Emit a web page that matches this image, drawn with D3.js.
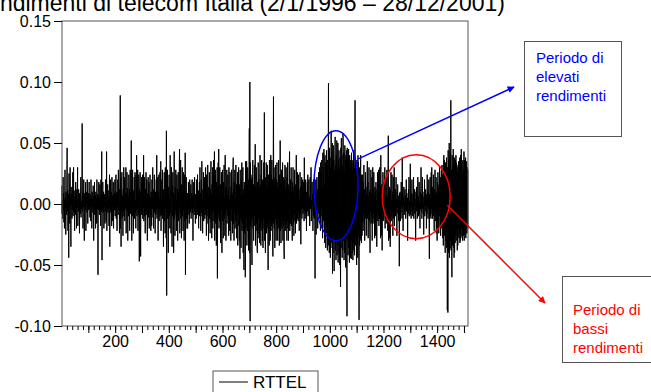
<!DOCTYPE html>
<html>
<head>
<meta charset="utf-8">
<script src="https://cdn.jsdelivr.net/npm/d3@7"></script>
<style>
  body { margin: 0; background: #fff; }
  svg { display: block; font-family: Arial, 'Liberation Sans', sans-serif; }
  .axis path, .axis line { stroke: #000; }
</style>
</head>
<body>
<div class="result"></div>
<script>
// Daily returns RTTEL, in thousandths (obs 1-500, 501-1000, 1001-1515)
const rtPart1 = [
  15, -8, 3, -12, 6, 22, -5, 9, -15, 4, -20, 7, 28, -3, 5, -25, 10, 2, -9, 24,
  46, -6, 11, -22, 3, 8, -44, 25, -2, 12, -16, 30, -4, 6, -35, 14, -1, 8, -12, 9,
  -5, 26, -10, 2, 30, -7, 11, -3, -22, 6, 1, -9, 18, -2, 12, -20, 4, -3, 8, 30,
  -18, 3, -6, 12, -2, 7, -24, 9, 1, -8, 5, 22, -11, 2, -4, 8, 66, -6, 10, -20,
  7, -2, 20, -8, -30, 4, 9, -5, 1, 18, -22, 6, -1, 10, -7, 20, 3, -16, 5, -4,
  9, -5, 18, -2, 4, -11, 8, 1, -14, 20, -3, 6, -20, 10, -1, 4, -7, 15, 2, -30,
  6, -4, 18, -9, 3, 7, -20, 10, -2, 5, -16, 20, -4, 2, 8, -58, 6, -5, 18, -3,
  4, -9, 16, -1, 7, -18, 20, -6, 3, 43, -46, 8, -4, 18, -7, 2, 10, -20, 5, -2,
  8, -16, 4, 20, -6, 1, -14, 43, -22, 5, -3, 16, -7, 11, -4, 3, -18, 8, 24, -35,
  6, -4, 20, -7, 2, 10, -18, 22, -3, 7, -14, 4, 18, -20, 6, -2, 9, -5, 20, -10,
  8, -3, 24, -12, 4, 10, -22, 7, -2, 20, -9, 28, -5, 3, 12, -24, 6, 30, 89, -20,
  22, -35, 9, -5, 26, -11, 7, 2, -26, 12, -6, 30, -10, 4, 22, -14, 8, -4, 11, 30,
  -24, 9, -6, 26, -3, 13, -30, 7, 2, -10, 24, -5, 12, -22, 4, 28, -8, 10, -4, 52,
  -8, -30, 14, -10, 28, -4, 8, -24, 11, -2, 22, -12, 5, 26, -7, 3, -20, 24, -5, 40,
  -10, 14, -4, 28, -22, 7, -9, 24, 3, -47, 12, -5, 26, -14, -43, 10, -4, 22, -9, 6,
  -7, 24, -12, 9, -3, 40, -14, 7, 22, -10, 4, -24, 12, -5, 26, -9, 3, 20, -12, -30,
  9, -5, 22, -11, 4, 18, -20, 7, -3, 24, -9, 5, -22, 10, 2, -18, 20, -4, 7, 30,
  -11, 6, -20, 12, -3, 24, -7, 4, -24, 10, 1, -9, 20, -5, 40, -12, 7, -3, 22, -30,
  10, -7, 24, -14, 5, -4, 26, -10, 7, 35, -22, 4, -9, 20, -5, 28, -12, 3, 9, -35,
  12, -6, 26, -14, 5, -24, 30, -4, 10, -28, 60, -75, 22, -5, 28, -12, 7, -40, 14, -8,
  24, -10, 5, -20, 40, -7, 12, -24, 4, 30, -5, -35, 15, -10, 26, -4, 9, -40, 14, 43,
  -12, 7, -26, 14, -5, 28, -9, 3, -22, 24, -7, 12, -30, 5, 26, -14, 9, -4, 30, 45,
  -24, 14, -7, 36, -12, 5, -28, 16, -3, 30, -10, 8, -22, 26, -5, 12, -30, 7, 24, -14,
  42, -58, 10, -7, 22, -12, 4, -20, 9, -20, 5, -9, 18, -4, 7, -16, 3, 20, -7, 4,
  -6, 16, -12, 2, 9, -4, 20, -7, 5, -30, 7, -3, 18, -9, 4, 22, -6, 2, -16, 8
];
const rtPart2 = [
  6, -12, 20, -3, 7, -9, 24, -5, 3, 11, -20, 7, -2, 18, -10, 30, -4, 9, -22, 5,
  20, -7, 35, -10, 4, -24, 12, -3, 26, -14, 7, -5, 22, -12, 10, -4, 30, -9, 5, -26,
  24, -10, 8, -4, 32, -16, 7, -30, 14, -5, 26, -12, 4, -24, 12, -7, 35, -14, 8, -28,
  16, -8, 30, -20, 10, -5, 36, -14, 7, 43, -30, 12, -10, 28, -16, 5, -34, 18, -7, 30,
  -61, 14, -12, 34, -8, 45, -20, 6, -14, 30, -4, 16, -32, 10, -5, 26, -18, -40, 12, 28,
  -14, 8, -28, 18, -6, 32, -12, 5, -26, 40, -9, 14, -30, 10, -4, 28, -16, 7, -10, 24,
  -5, 12, -26, 30, -9, 4, -22, 26, -12, 7, -30, 14, -4, 28, -14, 8, -24, 10, 30, 38,
  -16, 12, -30, 18, -7, 28, -20, 5, -14, 32, -10, 16, -28, 8, -5, 26, -34, 14, -9, 30,
  -18, 10, -30, 16, -45, 28, -12, 7, -36, 20, -14, 34, -22, 8, -16, 30, -40, 12, -20, -54,
  18, -24, 14, -10, -60, 35, -20, 22, -12, 35, -34, 16, -22, 30, -14, 20, -38, 12, 30, 62,
  -40, 100, -96, 34, -18, 24, -14, 20, -32, -50, 22, -12, 36, -20, 16, -30, 12, -18, 32, -10,
  20, 49, -34, 14, -22, 30, -16, 12, -36, -40, 18, -24, 34, -12, 20, -28, 14, -32, 22, 40,
  -20, 16, -34, 24, -14, 36, -22, 10, -30, 20, -36, 18, -12, 34, -20, 75, -30, 16, -14, -40,
  22, -18, 34, -24, 14, -20, 32, -16, 12, -54, 24, -22, 18, -34, 36, -14, 20, -30, 16, 40,
  -22, 24, -18, 36, -14, 20, -32, -43, 22, 88, -16, 30, -20, 18, -36, 22, -12, 32, -18, -30,
  20, -16, 34, -22, 14, -30, 18, -12, 36, -20, 16, -34, 24, -14, 52, -22, 18, -32, 12, 28,
  -20, 24, -14, 34, -30, 16, -18, 22, -36, -45, 20, -14, 32, -22, 12, -20, 30, -16, 18, -30,
  22, -14, 34, -20, 16, -30, 12, -18, 30, 43, -22, 14, -16, 20, -12, 30, -18, 10, -14, -30,
  18, -12, 30, -16, 10, -26, 14, -8, 28, -14, 6, -24, 16, -10, 40, -16, 12, -6, 26, -12,
  8, -14, 24, -6, 12, -22, 4, -10, 26, -8, 14, -33, 10, -4, 22, -12, 6, -3, 20, -8,
  10, -4, 18, -14, 38, -6, 8, -12, 2, 20, -8, 4, -22, 10, -2, 18, -6, 24, -10, 4,
  -3, 20, -8, 6, -18, 2, 22, -4, 10, 30, -14, 3, -6, 18, -2, 8, -22, 4, 20, -10,
  6, -12, 24, -4, -61, 10, -3, 20, -25, 8, -6, 22, -2, 12, -20, 4, -8, 26, -4, 10,
  -12, 30, -6, 14, -22, 34, -10, 26, -4, 36, -18, 12, -28, 42, -8, 30, -14, 45, -20, 16,
  -32, 40, -12, 34, -36, 20, -18, 44, -24, 14, -38, 36, -16, 30, 99, -34, 22, -40, 46, -20
];
const rtPart3 = [
  38, -44, 30, -36, 60, -28, 42, -32, 50, -57, 34, -40, 48, -26, 36, -55, 28, -30, 44, 55,
  -38, 32, -46, 40, -30, 52, -42, 28, -34, 50, -48, 36, -26, 44, -40, 30, -50, 38, -32, -68,
  46, -36, 54, -28, 40, -44, 32, -38, 58, 50, -30, 42, -46, 26, -40, 48, -34, 36, -52, 40,
  -28, 44, -38, -92, 46, -30, 38, -42, 28, 45, -36, 32, -48, 40, -26, 36, -44, 30, -38, -45,
  42, -30, 36, -40, 28, -46, 34, -32, 44, -38, 30, -42, 26, 85, -34, 38, -28, 32, -40, -50,
  36, -30, 28, -44, 40, -26, 34, -38, -95, 30, -34, 26, -30, 22, 40, -28, 20, -32, 24, -26,
  24, -14, 10, -22, 18, -8, 32, -16, 12, -30, 6, -12, 26, -10, 14, -26, 8, -5, 28, 35,
  -12, 18, -28, 6, -9, 30, -14, 10, -20, -40, 12, -6, 28, -16, 8, -10, 22, -30, 4, 30,
  -16, 12, -8, 26, -12, 6, -28, 14, -4, 10, -26, 18, -10, 3, -35, 12, -6, 26, -14, 8,
  -10, 28, -18, 4, -12, 30, -8, 14, -28, 40, -6, 10, -26, 16, -38, 12, -4, 26, -14, 8,
  -12, 18, -6, 10, 30, -20, 4, -10, 22, -16, 8, -3, 28, -12, 6, -22, 26, 56, -30, 10,
  -8, 14, -28, 6, -35, 12, -4, 26, -14, 3, -10, 24, -6, 10, -26, 4, -12, 22, -3, 30,
  -18, 8, -5, 12, -10, 2, 22, -6, 4, -26, 10, -3, 16, -8, 3, -14, 7, -2, -51, 9,
  -5, 10, -14, 3, -7, 18, -2, 8, -12, 38, -4, 6, -22, 5, -1, 14, -9, 2, -6, 12,
  -4, 7, -12, 1, 20, -6, 9, -2, 5, -30, 4, -8, 12, -1, 22, -10, 2, -6, 7, 33,
  -9, 4, -12, 9, -2, 20, -6, 1, -10, 8, -4, 22, -12, 3, -1, 12, -8, 4, -14, -30,
  10, -2, 14, -6, 7, -12, 1, 22, -4, 6, -10, 3, 18, -8, 1, -20, 10, -4, 14, 30,
  -6, 8, -12, 3, 22, -4, 10, -8, 1, -25, 6, -2, 20, -10, 4, -1, 12, -6, 8, -20,
  4, -8, 24, -2, 10, -12, 6, -4, 20, -16, -45, 8, -6, 22, -10, 3, -12, 26, -4, 30,
  -8, 14, -12, 6, -2, 24, -10, 4, -22, 12, -6, 28, -14, 8, -4, 22, -24, 10, -2, -30,
  18, -14, 26, -20, 12, -24, 16, -10, 30, 25, -18, 22, -26, 14, -12, 28, -20, 32, -16, 24,
  -28, 20, -34, 30, 40, -22, 36, -26, 18, -40, 34, -30, 26, -20, 38, -36, 22, -87, 30, -89,
  44, -40, 36, -28, 50, -44, 30, -36, 42, -30, 85, -38, 28, -24, -60, 40, -34, 30, -28, 45,
  -36, 32, -44, 38, -40, 28, -32, 36, -26, 40, -30, 34, -22, 30, -38, 26, -34, 32, -20, 35,
  -28, 30, -24, 38, -32, 22, -30, 40, -26, 45, -20, 34, -28, 24, -30, 36, -22, 28, -26, 43,
  -30, 36, -22, 30, -25, 38, -28, 26, -18, 35, -24, 30, -16, 28, -20
];

const yTicks = [-0.10, -0.05, 0.00, 0.05, 0.10, 0.15];
const xLabels = [200, 400, 600, 800, 1000, 1200, 1400];
const seriesName = 'RTTEL';
const title = 'Rendimenti di telecom Italia (2/1/1996 \u2013 28/12/2001)';
const noteHigh = ['Periodo di', 'elevati', 'rendimenti'];
const noteLow = ['Periodo di', 'bassi', 'rendimenti'];

const rttel = rtPart1.concat(rtPart2, rtPart3).map(function (v) { return v / 1000; });
const n = rttel.length;

// Size
const w = 651;
const h = 392;
const plot = { left: 62, top: 21, right: 468, bottom: 326 };

const svg = d3.select('.result')
  .append('svg')
  .attr('width', w)
  .attr('height', h);

svg.append('rect').attr('width', w).attr('height', h).attr('fill', '#fff');

// Scales
const xScale = d3.scaleLinear()
  .domain([0, n])
  .range([plot.left - 0.5, plot.right]);

const yScale = d3.scaleLinear()
  .domain([-0.10, 0.15])
  .range([plot.bottom, plot.top]);

// Title (cut off at the top left, like the source)
svg.append('text')
  .attr('x', -29.5)
  .attr('y', 11)
  .attr('font-size', 23)
  .attr('fill', '#000')
  .text(title);

// Series line
const line = d3.line()
  .x(function (d, i) { return xScale(i + 1); })
  .y(function (d) { return yScale(d); });

svg.append('path')
  .datum(rttel)
  .attr('fill', 'none')
  .attr('stroke', '#000')
  .attr('stroke-width', 1)
  .attr('d', line);

// Frame
svg.append('rect')
  .attr('x', plot.left)
  .attr('y', plot.top)
  .attr('width', plot.right - plot.left)
  .attr('height', plot.bottom - plot.top)
  .attr('fill', 'none')
  .attr('stroke', '#555')
  .attr('stroke-width', 1);

// Y axis
const yAxis = d3.axisLeft(yScale)
  .tickValues(yTicks)
  .tickSize(8)
  .tickPadding(3)
  .tickFormat(function (d) { return d.toFixed(2); });

svg.append('g')
  .attr('class', 'axis')
  .attr('transform', 'translate(' + plot.left + ',0)')
  .call(yAxis)
  .call(function (g) { g.select('.domain').remove(); })
  .selectAll('text')
  .attr('font-size', 16)
  .attr('font-family', 'Arial, Liberation Sans, sans-serif')
  .attr('fill', '#000');

// X axis: minor ticks every 20, longer every 100, labels every 200
const xMinor = d3.axisBottom(xScale)
  .tickValues(d3.range(20, n, 20))
  .tickSize(4)
  .tickFormat('');
const xMajor = d3.axisBottom(xScale)
  .tickValues(d3.range(100, n, 100))
  .tickSize(7)
  .tickFormat('');
const xText = d3.axisBottom(xScale)
  .tickValues(xLabels)
  .tickSize(0)
  .tickPadding(10)
  .tickFormat(d3.format('d'));

[xMinor, xMajor, xText].forEach(function (ax) {
  svg.append('g')
    .attr('class', 'axis')
    .attr('transform', 'translate(0,' + plot.bottom + ')')
    .call(ax)
    .call(function (g) { g.select('.domain').remove(); })
    .selectAll('text')
    .attr('font-size', 16)
    .attr('font-family', 'Arial, Liberation Sans, sans-serif')
    .attr('fill', '#000');
});

// Legend
const legend = svg.append('g').attr('transform', 'translate(213,371)');
legend.append('rect')
  .attr('width', 105).attr('height', 30)
  .attr('fill', '#fff').attr('stroke', '#555');
legend.append('line')
  .attr('x1', 6).attr('x2', 35).attr('y1', 11).attr('y2', 11)
  .attr('stroke', '#000');
legend.append('text')
  .attr('x', 40).attr('y', 17)
  .attr('font-size', 17)
  .text(seriesName);

// Annotations
const defs = svg.append('defs');
[['arrBlue', '#0000ff'], ['arrRed', '#ff0000']].forEach(function (m) {
  defs.append('marker')
    .attr('id', m[0])
    .attr('viewBox', '0 0 10 10')
    .attr('refX', 9).attr('refY', 5)
    .attr('markerWidth', 9).attr('markerHeight', 7)
    .attr('markerUnits', 'userSpaceOnUse')
    .attr('orient', 'auto')
    .append('path')
    .attr('d', 'M0,0L10,5L0,10Z')
    .attr('fill', m[1]);
});

// high-return period (blue)
svg.append('ellipse')
  .attr('cx', xScale(1023)).attr('cy', yScale(0.015))
  .attr('rx', 22).attr('ry', 55)
  .attr('fill', 'none').attr('stroke', '#0000ff').attr('stroke-width', 1.5);
svg.append('line')
  .attr('x1', xScale(1106)).attr('y1', yScale(0.037))
  .attr('x2', 514).attr('y2', 87)
  .attr('stroke', '#0000ff').attr('stroke-width', 1.5)
  .attr('marker-end', 'url(#arrBlue)');

// low-return period (red)
svg.append('ellipse')
  .attr('cx', xScale(1322)).attr('cy', yScale(0.006))
  .attr('rx', 34).attr('ry', 42)
  .attr('fill', 'none').attr('stroke', '#ff0000').attr('stroke-width', 1.5);
svg.append('line')
  .attr('x1', xScale(1438)).attr('y1', yScale(-0.001))
  .attr('x2', 545).attr('y2', 303)
  .attr('stroke', '#ff0000').attr('stroke-width', 1.5)
  .attr('marker-end', 'url(#arrRed)');

function noteBox(x, y, bw, bh, lines, color, tx, ty) {
  svg.append('rect')
    .attr('x', x).attr('y', y).attr('width', bw).attr('height', bh)
    .attr('fill', '#fff').attr('stroke', '#555');
  const t = svg.append('text')
    .attr('font-size', 15)
    .attr('fill', color);
  lines.forEach(function (s, i) {
    t.append('tspan').attr('x', tx).attr('y', ty + i * 19).text(s);
  });
}
noteBox(524.5, 41.5, 97, 95, noteHigh, '#0000ff', 536, 63);
noteBox(562.5, 276.5, 92, 86, noteLow, '#ff0000', 573, 315);
</script>
</body>
</html>
